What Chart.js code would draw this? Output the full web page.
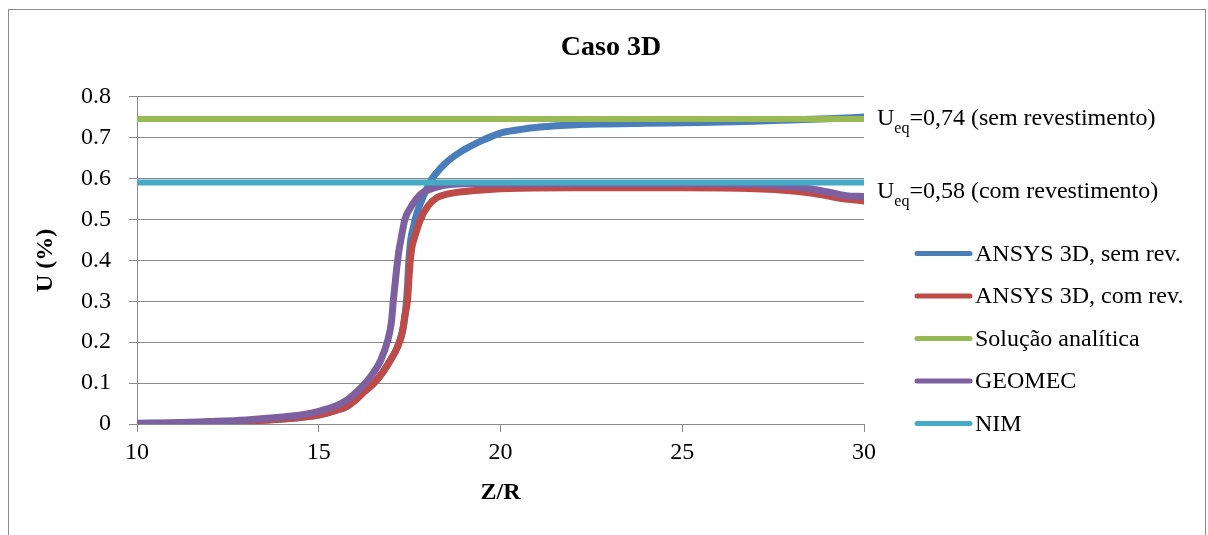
<!DOCTYPE html>
<html>
<head>
<meta charset="utf-8">
<title>Caso 3D</title>
<script src="https://cdn.jsdelivr.net/npm/chart.js@4.4.1/dist/chart.umd.min.js"></script>
<style>
  html, body { margin: 0; padding: 0; background: #fff; overflow: hidden; }
  #frame { position: absolute; left: 8px; top: 9px; width: 1196px; height: 600px; border: 1px solid #8c8c8c; }
  #wrap { position: absolute; left: 0; top: 0; width: 1208px; height: 535px; }
</style>
</head>
<body>
<div id="frame"></div>
<div id="wrap"><canvas id="chart" width="1208" height="535"></canvas></div>
<script>
// Z/R values for each series
const zrSemRev = [10, 11, 12, 13, 14, 14.5, 15, 15.5, 15.75, 16, 16.25, 16.5, 16.75, 17, 17.15,
  17.3, 17.38, 17.43, 17.48, 17.53, 17.6, 17.7, 17.87, 18.1, 18.35, 18.6, 18.9, 19.16, 19.5, 20,
  20.5, 20.9, 21.8, 22.7, 24, 25.5, 27, 28, 29, 30];
const uSemRev = [0.001, 0.002, 0.004, 0.007, 0.012, 0.016, 0.022, 0.034, 0.042, 0.058, 0.079, 0.098, 0.125, 0.16, 0.185,
  0.225, 0.27, 0.32, 0.40, 0.45, 0.48, 0.515, 0.555, 0.597, 0.625, 0.646, 0.665, 0.678, 0.693, 0.711,
  0.719, 0.724, 0.730, 0.733, 0.735, 0.737, 0.740, 0.743, 0.746, 0.750];

const zrComRev = [10, 11, 12, 13, 14, 14.5, 15, 15.5, 15.75, 16, 16.25, 16.5, 16.75, 17, 17.15,
  17.3, 17.38, 17.44, 17.5, 17.56, 17.65, 17.8, 18, 18.25, 18.5, 18.8, 19.5, 20.5, 22, 25,
  27, 27.7, 28.6, 29.3, 30];
const uComRev = [0.001, 0.002, 0.004, 0.007, 0.012, 0.016, 0.022, 0.034, 0.042, 0.058, 0.079, 0.098, 0.125, 0.16, 0.185,
  0.225, 0.27, 0.30, 0.38, 0.43, 0.46, 0.50, 0.532, 0.553, 0.561, 0.566, 0.572, 0.576, 0.577, 0.577,
  0.575, 0.572, 0.564, 0.552, 0.545];

const zrGeomec = [10, 11, 12, 13, 14, 14.5, 15, 15.5, 15.75, 16, 16.25, 16.5, 16.7, 16.9, 17,
  17.05, 17.12, 17.2, 17.28, 17.37, 17.5, 17.65, 17.85, 18.05, 18.3, 18.6, 19, 20, 22, 25,
  27, 28, 28.5, 29, 29.5, 30];
const uGeomec = [0.002, 0.003, 0.006, 0.010, 0.017, 0.022, 0.031, 0.045, 0.057, 0.075, 0.097, 0.125, 0.155, 0.205, 0.25,
  0.30, 0.36, 0.42, 0.46, 0.50, 0.525, 0.545, 0.565, 0.573, 0.58, 0.585, 0.587, 0.587, 0.587, 0.587,
  0.585, 0.58, 0.575, 0.567, 0.558, 0.556];

const zrFlat = [10, 30];
const uAnalitica = [0.745, 0.745];
const uNim = [0.59, 0.59];

const seriesNames = ['ANSYS 3D, sem rev.', 'ANSYS 3D, com rev.', 'Solução analítica', 'GEOMEC', 'NIM'];
const seriesColors = ['#4a7ebb', '#be4b48', '#98b954', '#7d60a0', '#46aac5'];
const seriesWidths = [7, 7, 6, 7, 6];

// right-side notes: U_eq labels
const noteValues = [0.745, 0.59];
const noteTexts = ['=0,74 (sem revestimento)', '=0,58 (com revestimento)'];

const FONT = "'Liberation Serif', 'Times New Roman', serif";
const GRID = '#8a8a8a';

function pts(xs, ys) {
  return xs.map((x, i) => ({ x: x, y: ys[i] }));
}

const seriesData = [
  pts(zrSemRev, uSemRev),
  pts(zrComRev, uComRev),
  pts(zrFlat, uAnalitica),
  pts(zrGeomec, uGeomec),
  pts(zrFlat, uNim)
];

// later series drawn on top, like the original
const datasets = seriesNames.map((name, i) => ({
  label: name,
  data: seriesData[i],
  borderColor: seriesColors[i],
  backgroundColor: seriesColors[i],
  borderWidth: seriesWidths[i],
  order: seriesNames.length - i
}));

const sidePlugin = {
  id: 'side',
  afterDraw(chart) {
    const ctx = chart.ctx;
    const area = chart.chartArea;
    const y = chart.scales.y;
    ctx.save();
    ctx.fillStyle = '#000';

    // U_eq notes
    const noteOffsets = [6, 15];
    noteValues.forEach((v, i) => {
      let x = area.right + 13;
      const base = y.getPixelForValue(v) + noteOffsets[i];
      ctx.textBaseline = 'alphabetic';
      ctx.textAlign = 'left';
      ctx.font = '24px ' + FONT;
      ctx.fillText('U', x, base);
      x += ctx.measureText('U').width;
      ctx.font = '16px ' + FONT;
      ctx.fillText('eq', x, base + 8);
      x += ctx.measureText('eq').width;
      ctx.font = '24px ' + FONT;
      ctx.fillText(noteTexts[i], x, base);
    });

    // legend
    ctx.font = '24px ' + FONT;
    ctx.textBaseline = 'middle';
    ctx.lineCap = 'round';
    ctx.lineWidth = 5;
    chart.data.datasets.forEach((ds, i) => {
      const yy = area.top + 157 + i * 42.5;
      ctx.strokeStyle = ds.borderColor;
      ctx.beginPath();
      ctx.moveTo(area.right + 53, yy);
      ctx.lineTo(area.right + 106, yy);
      ctx.stroke();
      ctx.fillText(ds.label, area.right + 111, yy + 1);
    });
    ctx.restore();
  }
};

new Chart(document.getElementById('chart'), {
  type: 'line',
  data: { datasets: datasets },
  options: {
    responsive: false,
    animation: false,
    layout: { padding: { left: 14, right: 0, top: 0, bottom: 0 } },
    plugins: {
      legend: { display: false },
      tooltip: { enabled: false },
      title: {
        display: true,
        text: 'Caso 3D',
        color: '#000',
        font: { family: FONT, size: 28, weight: 'bold' },
        padding: { top: 31, bottom: 32 }
      }
    },
    elements: {
      point: { radius: 0 },
      line: { borderCapStyle: 'round', borderJoinStyle: 'round', cubicInterpolationMode: 'monotone' }
    },
    scales: {
      x: {
        type: 'linear',
        min: 10,
        max: 30,
        ticks: { stepSize: 5, color: '#000', font: { family: FONT, size: 24 }, padding: 6 },
        grid: { drawOnChartArea: false, drawTicks: true, tickLength: 8, color: GRID },
        border: { color: GRID },
        title: {
          display: true, text: 'Z/R', color: '#000',
          font: { family: FONT, size: 24, weight: 'bold' },
          padding: { top: 0, bottom: 28 }
        },
        afterFit: s => { s.height = 111; }
      },
      y: {
        min: 0,
        max: 0.8,
        ticks: { stepSize: 0.1, color: '#000', font: { family: FONT, size: 24 }, padding: 18 },
        grid: { color: GRID, tickLength: 8 },
        border: { color: GRID },
        title: {
          display: true, text: 'U (%)', color: '#000',
          font: { family: FONT, size: 24, weight: 'bold' },
          padding: { top: 17, bottom: 0 }
        },
        afterFit: s => { s.width = 123; }
      },
      y2: {
        position: 'right',
        grid: { display: false },
        border: { display: false },
        ticks: { display: false },
        afterFit: s => { s.width = 344; }
      }
    }
  },
  plugins: [sidePlugin]
});
</script>
</body>
</html>
